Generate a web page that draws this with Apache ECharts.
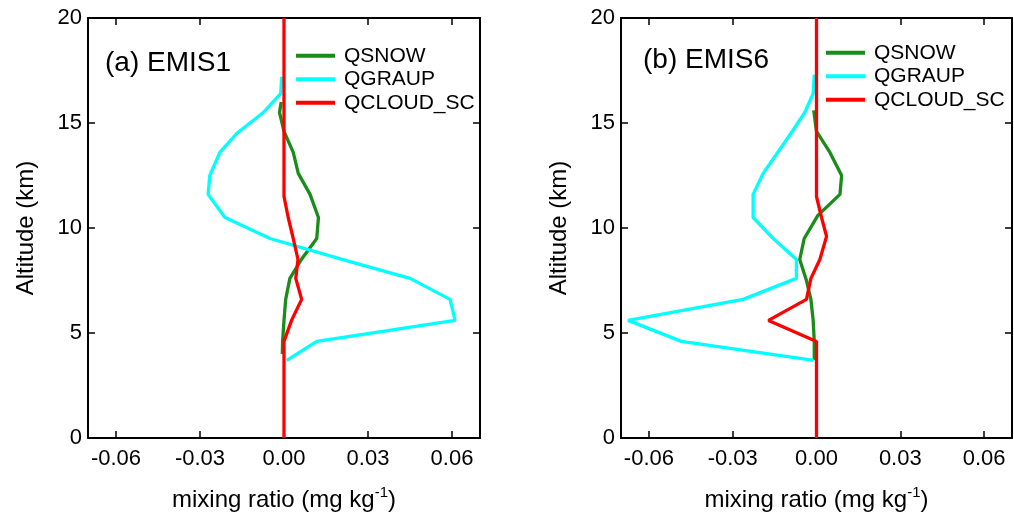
<!DOCTYPE html>
<html lang="en">
<head>
    <meta charset="UTF-8">
    <title>mixing ratio profiles</title>
    <style>
        html, body { margin: 0; padding: 0; background: #fff; }
        #main { width: 1014px; height: 527px; }
    </style>
    <script src="https://cdn.jsdelivr.net/npm/echarts@6/dist/echarts.min.js"></script>
</head>
<body>
<div id="main"></div>
<script>
    // x 轴刻度
    var xTicks = [-0.06, -0.03, 0, 0.03, 0.06];

    // (a) EMIS1
    var snowAltA = [16.0, 15.5, 14.6, 13.6, 12.6, 11.6, 10.5, 9.5, 8.5, 7.6, 6.6, 5.6, 4.6, 4.0];
    var snowA = [-0.0010, -0.0016, 0.0000, 0.0033, 0.0051, 0.0093, 0.0123, 0.0117, 0.0062, 0.0021, 0.0006, 0.0000, -0.0005, -0.0006];
    var graupAltA = [17.2, 16.4, 15.5, 14.5, 13.6, 12.5, 11.6, 10.5, 9.5, 8.4, 7.6, 6.6, 5.6, 4.6, 3.7];
    var graupA = [-0.0008, -0.0012, -0.0074, -0.0169, -0.0229, -0.0265, -0.0271, -0.0211, -0.0050, 0.0235, 0.0450, 0.0593, 0.0611, 0.0117, 0.0010];
    var cloudAltA = [0, 4.6, 5.6, 6.6, 7.6, 8.5, 9.5, 10.5, 11.5, 20];
    var cloudA = [0, 0, 0.0027, 0.0063, 0.0042, 0.0050, 0.0033, 0.0015, 0, 0];

    // (b) EMIS6
    var snowAltB = [15.6, 15.0, 14.6, 13.6, 12.5, 11.6, 10.6, 9.5, 8.5, 7.5, 6.6, 5.6, 4.6, 3.7];
    var snowB = [-0.0010, -0.0004, 0.0000, 0.0048, 0.0090, 0.0084, 0.0005, -0.0044, -0.0060, -0.0036, -0.0020, -0.0012, -0.0008, -0.0008];
    var graupAltB = [17.3, 16.4, 15.5, 14.5, 13.5, 12.6, 11.6, 10.5, 9.5, 8.5, 7.6, 6.6, 5.6, 4.6, 3.7];
    var graupB = [-0.0008, -0.0012, -0.0042, -0.0092, -0.0144, -0.0191, -0.0227, -0.0227, -0.0155, -0.0072, -0.0072, -0.0263, -0.0675, -0.0484, -0.0010];
    var cloudAltB = [0, 4.6, 5.6, 6.6, 7.6, 8.5, 9.6, 10.5, 11.5, 20];
    var cloudB = [0, 0, -0.0172, -0.0036, -0.0020, 0.0012, 0.0036, 0.0018, 0, 0];

    var names = ['QSNOW', 'QGRAUP', 'QCLOUD_SC'];
    var colors = ['#1a8c1a', '#00ffff', '#ff0000'];
    var panelLabels = ['(a) EMIS1', '(b) EMIS6'];

    var FONT = 'Liberation Sans, Arial, sans-serif';

    function pairs(vals, alts) {
        return vals.map(function (v, i) { return [v, alts[i]]; });
    }

    var tickStyle = {show: true, inside: true, length: 7, lineStyle: {color: '#000', width: 1.5}};
    var lineStyle = {show: true, onZero: false, lineStyle: {color: '#000', width: 2}};

    function xAxes(grid) {
        return [{
            type: 'value', gridIndex: grid, position: 'bottom', min: -0.07, max: 0.07,
            axisLine: lineStyle, splitLine: {show: false},
            axisTick: Object.assign({customValues: xTicks}, tickStyle),
            axisLabel: {
                customValues: xTicks, margin: 10, color: '#000', fontSize: 22, fontFamily: FONT,
                formatter: function (v) { return v.toFixed(2); }
            },
            name: '{a|mixing ratio (mg kg}{s|-1}{a|)}', nameLocation: 'middle', nameGap: 47,
            nameTextStyle: {
                rich: {
                    a: {fontSize: 24, fontFamily: FONT, color: '#000'},
                    s: {fontSize: 15, fontFamily: FONT, color: '#000', padding: [0, 0, 15, 0]}
                }
            }
        }, {
            type: 'value', gridIndex: grid, position: 'top', min: -0.07, max: 0.07,
            axisLine: lineStyle, splitLine: {show: false},
            axisTick: Object.assign({customValues: xTicks}, tickStyle),
            axisLabel: {show: false}
        }];
    }

    function yAxes(grid) {
        return [{
            type: 'value', gridIndex: grid, position: 'left', min: 0, max: 20, interval: 5,
            axisLine: lineStyle, splitLine: {show: false}, axisTick: tickStyle,
            axisLabel: {margin: 6, color: '#000', fontSize: 22, fontFamily: FONT},
            name: 'Altitude (km)', nameLocation: 'middle', nameGap: 50, nameRotate: 90,
            nameTextStyle: {fontSize: 24, fontFamily: FONT, color: '#000'}
        }, {
            type: 'value', gridIndex: grid, position: 'right', min: 0, max: 20, interval: 5,
            axisLine: lineStyle, splitLine: {show: false}, axisTick: tickStyle,
            axisLabel: {show: false}
        }];
    }

    function line(i, grid, vals, alts) {
        return {
            name: names[i], type: 'line', xAxisIndex: grid * 2, yAxisIndex: grid * 2,
            data: pairs(vals, alts), showSymbol: false, symbol: 'none', animation: false,
            color: colors[i], lineStyle: {color: colors[i], width: 3.3}, z: 2 + i
        };
    }

    function legend(left, top) {
        return {
            data: names, orient: 'vertical', left: left, top: top, icon: 'rect', padding: 0,
            itemWidth: 39, itemHeight: 4, itemGap: 0, selectedMode: false,
            textStyle: {fontSize: 21, fontFamily: FONT, color: '#000', lineHeight: 23.5, padding: [0, 0, 0, 4]}
        };
    }

    var myChart = echarts.init(document.getElementById('main'), null, {renderer: 'canvas'});
    var option = {
        backgroundColor: '#fff',
        animation: false,
        title: [
            {text: panelLabels[0], left: 105, top: 49, padding: 0, textStyle: {fontSize: 28, fontWeight: 'normal', fontFamily: FONT, color: '#000'}},
            {text: panelLabels[1], left: 643, top: 46, padding: 0, textStyle: {fontSize: 28, fontWeight: 'normal', fontFamily: FONT, color: '#000'}}
        ],
        legend: [legend(296, 44), legend(826, 41)],
        grid: [
            {left: 88, top: 18, width: 392, height: 420, outerBoundsMode: 'none', containLabel: false},
            {left: 621, top: 18, width: 391, height: 420, outerBoundsMode: 'none', containLabel: false}
        ],
        xAxis: xAxes(0).concat(xAxes(1)),
        yAxis: yAxes(0).concat(yAxes(1)),
        series: [
            line(0, 0, snowA, snowAltA),
            line(1, 0, graupA, graupAltA),
            line(2, 0, cloudA, cloudAltA),
            line(0, 1, snowB, snowAltB),
            line(1, 1, graupB, graupAltB),
            line(2, 1, cloudB, cloudAltB)
        ]
    };
    myChart.setOption(option);
</script>
</body>
</html>
